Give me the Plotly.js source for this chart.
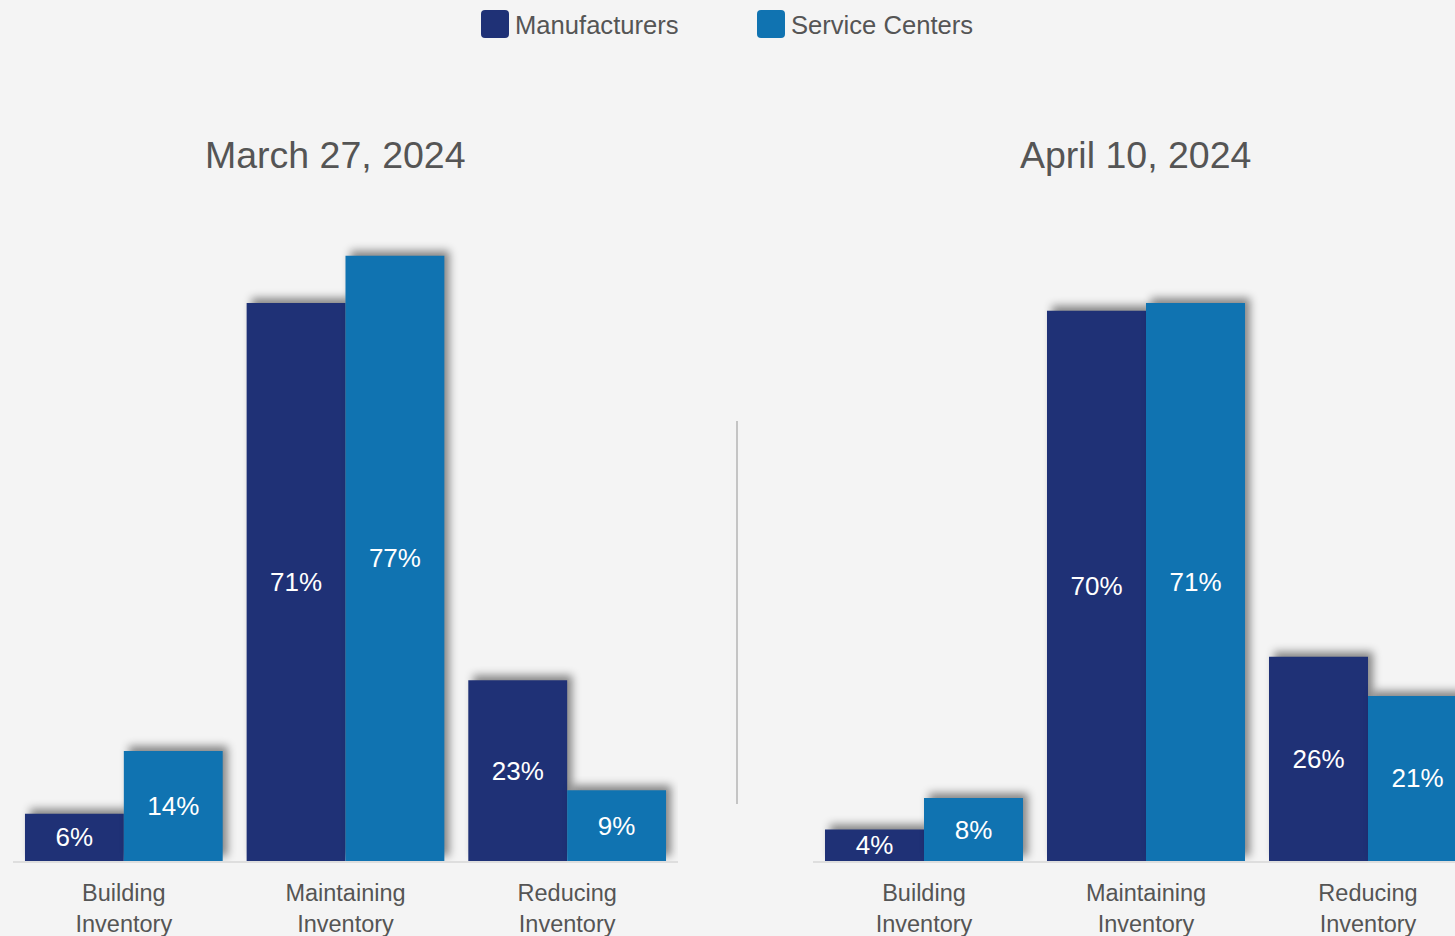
<!DOCTYPE html>
<html>
<head>
<meta charset="utf-8">
<script src="https://cdn.plot.ly/plotly-3.0.1.min.js"></script>
<style>
  html, body { margin: 0; padding: 0; background: #f4f4f4; overflow: hidden; }
  #chart { width: 1455px; height: 936px; }
  .barlayer .point path { filter: drop-shadow(5px -5px 4px rgba(0,0,0,0.45)); }
</style>
</head>
<body>
<div id="chart"></div>
<script>
// ---- data ----
const categories = ["Building<br>Inventory", "Maintaining<br>Inventory", "Reducing<br>Inventory"];
const seriesNames = ["Manufacturers", "Service Centers"];
const panelTitles = ["March 27, 2024", "April 10, 2024"];
const marchManufacturers = [6, 71, 23];
const marchServiceCenters = [14, 77, 9];
const aprilManufacturers = [4, 70, 26];
const aprilServiceCenters = [8, 71, 21];

// ---- style ----
const W = 1455, H = 936;
const navy = "#1f3176";
const blue = "#1073b1";
const grayText = "#555555";
const fontFam = "Liberation Sans, Arial, sans-serif";
const px = x => x / W;
const py = y => 1 - y / H;

function barTrace(name, values, color, xa, ya) {
  return {
    type: "bar", name: name, x: categories, y: values,
    xaxis: xa, yaxis: ya, showlegend: false,
    marker: { color: color, line: { width: 0 } },
    texttemplate: "%{y}%", textposition: "inside", insidetextanchor: "middle",
    constraintext: "none", cliponaxis: false,
    textfont: { family: fontFam, size: 26, color: "#ffffff" },
    hoverinfo: "skip"
  };
}

const data = [
  barTrace(seriesNames[0], marchManufacturers, navy, "x", "y"),
  barTrace(seriesNames[1], marchServiceCenters, blue, "x", "y"),
  barTrace(seriesNames[0], aprilManufacturers, navy, "x2", "y2"),
  barTrace(seriesNames[1], aprilServiceCenters, blue, "x2", "y2")
];

const tickFont = { family: fontFam, size: 23.5, color: grayText };
const xBase = {
  type: "category", showgrid: false, zeroline: false, showline: true,
  linecolor: "#dedede", linewidth: 2, ticks: "", tickfont: tickFont,
  fixedrange: true, ticklabelstandoff: 10
};
const yBase = {
  range: [0, 84.1], showgrid: false, zeroline: false, showline: false,
  showticklabels: false, ticks: "", fixedrange: true,
  domain: [py(861), py(200)]
};

function roundRect(x0, y0, x1, y1, r) {
  const X = v => px(v), Y = v => py(v);
  return `M${X(x0 + r)},${Y(y0)} L${X(x1 - r)},${Y(y0)} Q${X(x1)},${Y(y0)} ${X(x1)},${Y(y0 + r)} ` +
         `L${X(x1)},${Y(y1 - r)} Q${X(x1)},${Y(y1)} ${X(x1 - r)},${Y(y1)} L${X(x0 + r)},${Y(y1)} ` +
         `Q${X(x0)},${Y(y1)} ${X(x0)},${Y(y1 - r)} L${X(x0)},${Y(y0 + r)} Q${X(x0)},${Y(y0)} ${X(x0 + r)},${Y(y0)} Z`;
}

const layout = {
  width: W, height: H,
  paper_bgcolor: "#f4f4f4", plot_bgcolor: "rgba(0,0,0,0)",
  margin: { l: 0, r: 0, t: 0, b: 0, pad: 0 },
  showlegend: false,
  barmode: "group", bargap: 0.108, bargroupgap: 0,
  xaxis: Object.assign({}, xBase, { domain: [px(13), px(678)], range: [-0.5, 2.5], anchor: "y" }),
  yaxis: Object.assign({}, yBase, { anchor: "x" }),
  xaxis2: Object.assign({}, xBase, { domain: [px(813), 1], range: [-0.5, 2.5 - 24 / 222], anchor: "y2" }),
  yaxis2: Object.assign({}, yBase, { anchor: "x2" }),
  shapes: [
    { type: "line", xref: "paper", yref: "paper", x0: px(737), x1: px(737), y0: py(421), y1: py(804),
      line: { color: "#c4c4c4", width: 2 } },
    { type: "path", xref: "paper", yref: "paper", path: roundRect(481, 10, 509, 38, 4),
      fillcolor: navy, line: { width: 0 } },
    { type: "path", xref: "paper", yref: "paper", path: roundRect(757, 10, 785, 38, 4),
      fillcolor: blue, line: { width: 0 } }
  ],
  annotations: [
    { text: seriesNames[0], xref: "paper", yref: "paper", x: px(513), y: py(25), xanchor: "left", yanchor: "middle",
      showarrow: false, font: { family: fontFam, size: 25.6, color: grayText } },
    { text: seriesNames[1], xref: "paper", yref: "paper", x: px(789), y: py(25), xanchor: "left", yanchor: "middle",
      showarrow: false, font: { family: fontFam, size: 25.6, color: grayText } },
    { text: panelTitles[0], xref: "paper", yref: "paper", x: px(335), y: py(155), xanchor: "center", yanchor: "middle",
      showarrow: false, font: { family: fontFam, size: 37.5, color: grayText } },
    { text: panelTitles[1], xref: "paper", yref: "paper", x: px(1135), y: py(155), xanchor: "center", yanchor: "middle",
      showarrow: false, font: { family: fontFam, size: 37.5, color: grayText } }
  ]
};

Plotly.newPlot("chart", data, layout, { staticPlot: true, displayModeBar: false });
</script>
</body>
</html>
